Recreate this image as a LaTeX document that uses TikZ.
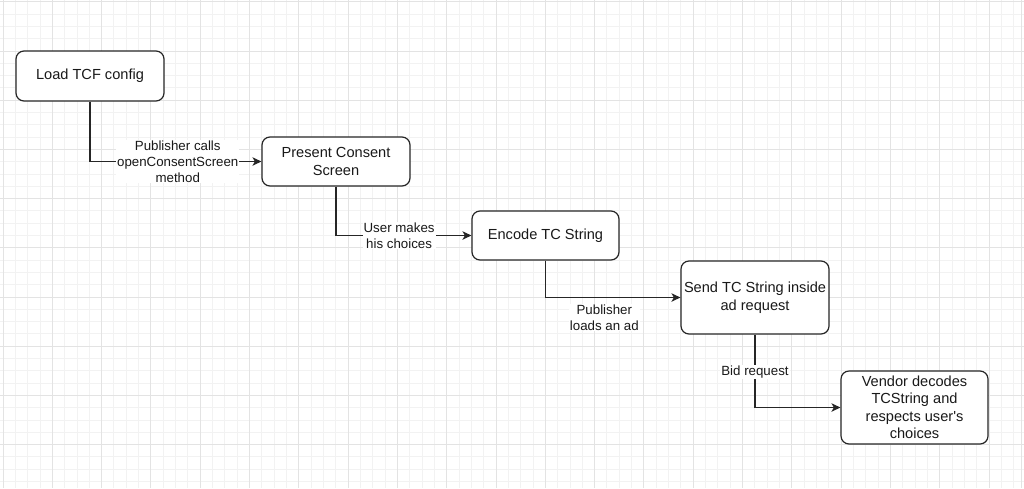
\documentclass[tikz,border=0pt]{standalone}
\usepackage{fontspec}
\setmainfont{Liberation Sans}[Ligatures=TeXOff]
\usetikzlibrary{arrows.meta}
\begin{document}
\begin{tikzpicture}[x=1pt,y=-1pt,
  minorgrid/.style={draw=black!5, line width=0.9pt},
  majorgrid/.style={draw=black!11, line width=1pt},
  stepbox/.style={draw=black!85, line width=1.2pt, rounded corners=8pt, fill=white,
    align=center, font=\fontsize{14.6}{17.5}\selectfont, inner sep=2pt, text=black!90},
  conn/.style={draw=black!85, line width=1.2pt, -{Stealth[length=9pt,width=8.5pt,inset=2.5pt]}},
  lbl/.style={fill=white, align=center, font=\fontsize{13.3}{16}\selectfont, inner sep=1pt, text=black!90}]
\useasboundingbox (0,0) rectangle (1024,488);
\fill[white] (0,0) rectangle (1024,488);
% grid
\foreach \i in {0,...,82} \draw[minorgrid] ({3+12.325*\i},0) -- ({3+12.325*\i},488);
\foreach \j in {0,...,39} \draw[minorgrid] (0,{1.8+12.3*\j}) -- (1024,{1.8+12.3*\j});
\foreach \i in {0,...,20} \draw[majorgrid] ({3+49.3*\i},0) -- ({3+49.3*\i},488);
\foreach \j in {0,...,9} \draw[majorgrid] (0,{1.8+49.2*\j}) -- (1024,{1.8+49.2*\j});
\draw[majorgrid] (1021.5,0) -- (1021.5,488);
% boxes
\node[stepbox, minimum width=148pt, minimum height=50pt] (b1) at (90,76) {Load TCF config};
\node[stepbox, minimum width=148pt, minimum height=49pt] (b2) at (336,161.5) {Present Consent\\Screen};
\node[stepbox, minimum width=147pt, minimum height=49pt] (b3) at (545.5,235.5) {Encode TC String};
\node[stepbox, minimum width=148pt, minimum height=73pt] (b4) at (755,297.5) {Send TC String inside\\ad request};
\node[stepbox, minimum width=147pt, minimum height=73pt] (b5) at (914.5,407.5) {Vendor decodes\\TCString and\\respects user's\\choices};
% connectors
\draw[conn] (b1.south) |- node[lbl, pos=0.756] {Publisher calls\\openConsentScreen\\method} (b2.west);
\draw[conn] (b2.south) |- node[lbl, pos=0.733] {User makes\\his choices} (b3.west);
\draw[conn] (b3.south) |- node[lbl, pos=0.718, yshift=-20pt] {Publisher\\loads an ad} (b4.west);
\draw[conn] (b4.south) |- node[lbl, pos=0.257] {Bid request} (b5.west);
\end{tikzpicture}
\end{document}
